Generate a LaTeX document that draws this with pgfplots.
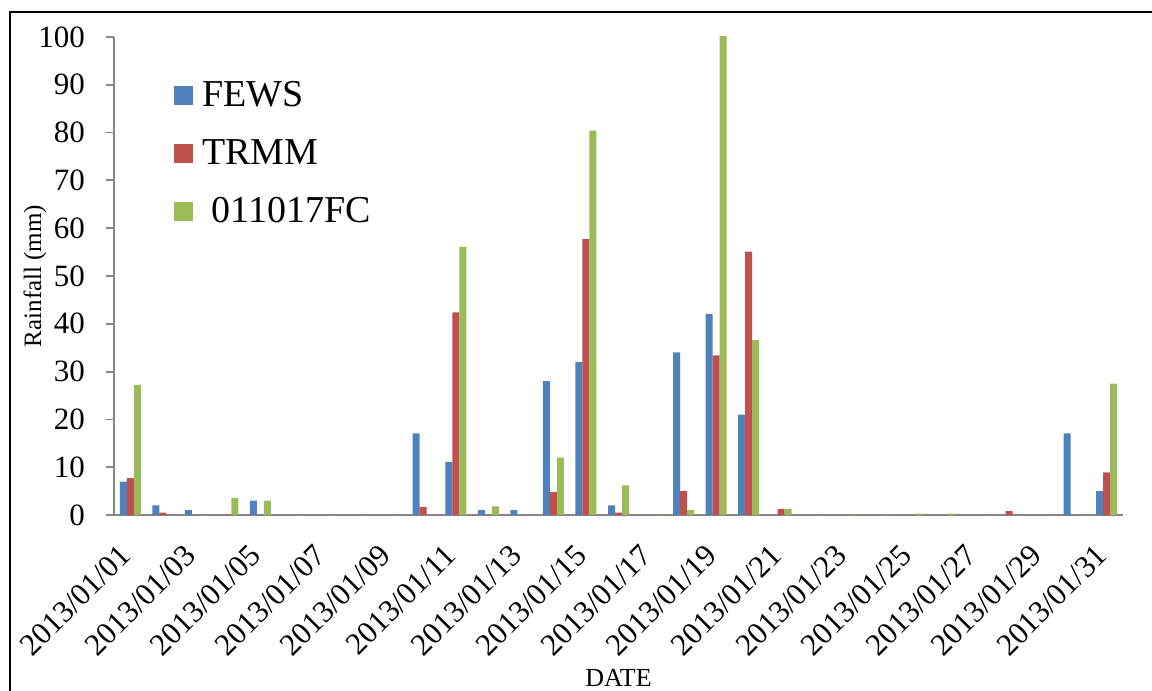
\documentclass[border=0pt]{standalone}
\usepackage{fontspec}
\setmainfont{Liberation Serif}
\usepackage{pgfplots}
\pgfplotsset{compat=1.18}
\definecolor{fews}{HTML}{4F81BD}
\definecolor{trmm}{HTML}{C0504D}
\definecolor{fc}{HTML}{9BBB59}
\definecolor{axgray}{HTML}{868686}
\begin{document}
\begin{tikzpicture}
\begin{axis}[
    name=ax,
    scale only axis,
    width=504.5pt, height=239pt,
    ybar=0pt, bar width=3.5pt,
    xmin=0.5, xmax=31.5, ymin=0, ymax=100,
    ytick={0,10,...,100},
    xtick={1,3,...,31},
    xticklabels={2013/01/01,2013/01/03,2013/01/05,2013/01/07,2013/01/09,2013/01/11,2013/01/13,2013/01/15,2013/01/17,2013/01/19,2013/01/21,2013/01/23,2013/01/25,2013/01/27,2013/01/29,2013/01/31},
    minor xtick={0.5,2.5,...,30.5},
    xtick style={draw=none},
    minor tick length=4pt, major tick length=4pt,
    tick align=outside,
    axis x line*=bottom, axis y line*=left,
    axis line style={draw=axgray, line width=0.9pt},
    every tick/.style={axgray, line width=0.9pt},
    minor x tick style={axgray, line width=0.9pt},
    /pgf/number format/assume math mode=true,
    yticklabel style={font=\fontsize{15.5}{18}\selectfont, xshift=-7pt},
    x tick label style={font=\fontsize{15.5}{18}\selectfont, rotate=45, anchor=east, yshift=-8pt, xshift=-8pt},
    ylabel={Rainfall (mm)},
    ylabel style={font=\fontsize{12.5}{15}\selectfont, at={(rel axis cs:0,0.5)}, anchor=center, yshift=39.5pt},
    xlabel={DATE},
    xlabel style={font=\fontsize{13}{15}\selectfont, at={(rel axis cs:0.5,0)}, anchor=center, yshift=-81.5pt},
    legend style={at={(rel axis cs:0,1)}, anchor=north west, xshift=27pt, yshift=-18pt,
        draw=none, fill=none, font=\fontsize{19}{22}\selectfont, row sep=11pt,
        nodes={inner xsep=4.5pt}},
    legend cell align=left,
    legend image code/.code={\fill[#1] (0pt,-4.75pt) rectangle (9.5pt,4.75pt);},
]
\addplot[fill=fews, draw=none] coordinates {
 (1,7) (2,2) (3,1) (4,0) (5,3) (6,0) (7,0) (8,0) (9,0) (10,17.1)
 (11,11.1) (12,1) (13,1) (14,28) (15,32) (16,2) (17,0) (18,34) (19,42) (20,21)
 (21,0) (22,0) (23,0) (24,0) (25,0) (26,0) (27,0) (28,0) (29,0) (30,17.1) (31,5)
};
\addlegendentry{FEWS}
\addplot[fill=trmm, draw=none] coordinates {
 (1,7.7) (2,0.5) (3,0) (4,0) (5,0) (6,0) (7,0) (8,0) (9,0) (10,1.7)
 (11,42.4) (12,0) (13,0) (14,4.8) (15,57.7) (16,0.5) (17,0) (18,5) (19,33.4) (20,55.1)
 (21,1.3) (22,0) (23,0) (24,0) (25,0) (26,0) (27,0) (28,0.8) (29,0) (30,0) (31,8.9)
};
\addlegendentry{TRMM}
\addplot[fill=fc, draw=none] coordinates {
 (1,27.2) (2,0) (3,0) (4,3.6) (5,3) (6,0) (7,0) (8,0) (9,0) (10,0)
 (11,56.1) (12,1.8) (13,0) (14,12) (15,80.4) (16,6.2) (17,0.1) (18,1) (19,100.2) (20,36.6)
 (21,1.3) (22,0) (23,0.1) (24,0.1) (25,0.3) (26,0.3) (27,0) (28,0) (29,0) (30,0) (31,27.5)
};
\addlegendentry{~011017FC}
\end{axis}
\draw[line width=1.2pt] ([xshift=-52pt,yshift=-120pt]ax.south west) -- ([xshift=-52pt,yshift=251.5pt]ax.south west) -- ([xshift=560pt,yshift=251.5pt]ax.south west);
\pgfresetboundingbox
\path[use as bounding box] ([xshift=-57pt,yshift=-88pt]ax.south west) rectangle ([xshift=519pt,yshift=257.5pt]ax.south west);
\end{tikzpicture}
\end{document}
